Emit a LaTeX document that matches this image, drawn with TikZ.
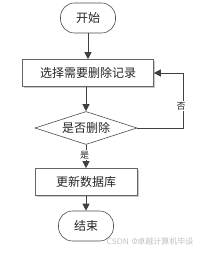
\documentclass[tikz,border=0pt]{standalone}
\usepackage{fontspec}
\newfontfamily\cjk{Noto Sans CJK SC}
\usetikzlibrary{arrows.meta,shapes.geometric,shadows}
\begin{document}
\begin{tikzpicture}[x=1pt,y=-1pt,
  every node/.style={font=\cjk\fontsize{12}{14}\selectfont, text=black!85},
  line/.style={draw=black!75, line width=0.8pt},
  arr/.style={line, -{Triangle[length=7pt,width=7pt]}},
  term/.style={draw=black!70, line width=0.6pt, rounded corners=14pt, minimum width=55pt, minimum height=30pt, fill=white},
  proc/.style={draw=black!60, line width=0.6pt, fill=white, minimum height=27pt, drop shadow={shadow xshift=1.5pt, shadow yshift=-1.5pt, fill=black!35, opacity=0.6}},
  dec/.style={draw=black!70, line width=0.6pt, diamond, aspect=3.1, minimum width=102pt, minimum height=33pt, inner sep=0pt, fill=white},
  lbl/.style={fill=white, inner sep=1pt, font=\cjk\fontsize{9}{10}\selectfont}
]
\useasboundingbox (0,0) rectangle (200,253);
\node[term] (start) at (88,18) {开始};
\node[proc, minimum width=131pt] (sel) at (88,73) {选择需要删除记录};
\node[dec] (q) at (86,128) {是否删除};
\node[proc, minimum width=102pt] (upd) at (86,182) {更新数据库};
\node[term] (end) at (86,226) {结束};
\coordinate (c1) at (183,128);
\coordinate (c2) at (183,73);
\draw[arr] (start) -- (sel);
\draw[arr] (sel.south -| q.north) -- (q.north);
\draw[arr] (q.south) -- (upd.north);
\draw[arr] (upd) -- (end);
\draw[arr] (q.east) -- (c1) -- (c2) -- (sel.east);
\node[lbl] (yes) at (84.5,155) {是};
\node[lbl] (no) at (181,106) {否};
\node[text=black!25, font=\sffamily\fontsize{8}{9}\selectfont, anchor=east] (wm) at (197,241) {CSDN @{\cjk 卓越计算机毕设}};
\end{tikzpicture}
\end{document}
